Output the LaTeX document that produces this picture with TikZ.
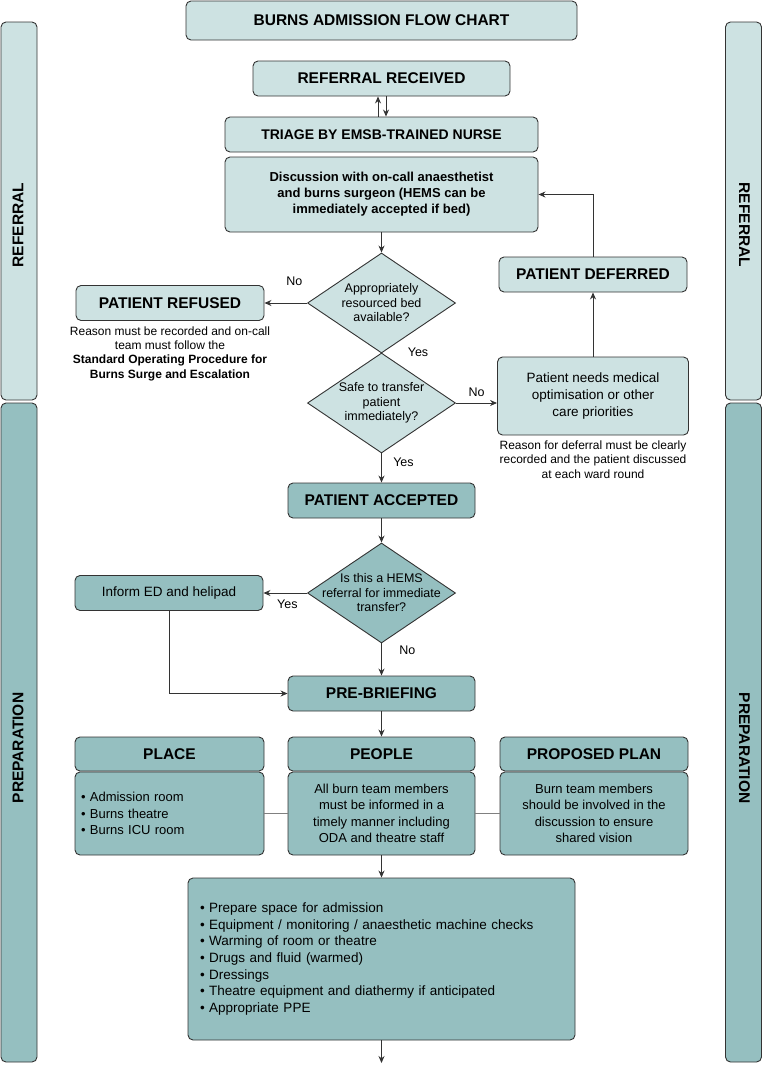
\documentclass[tikz,border=0pt]{standalone}
\usepackage{fontspec}
\setmainfont{Liberation Sans}
\usetikzlibrary{arrows.meta,positioning,shapes.geometric}
\definecolor{pale}{HTML}{CDE2E2}
\definecolor{teal}{HTML}{95BFC0}
\definecolor{ink}{HTML}{333333}

\tikzset{
  box/.style={draw=ink,line width=0.9pt,rounded corners=5pt,align=center,inner sep=4pt},
  palebox/.style={box,fill=pale},
  tealbox/.style={box,fill=teal},
  head/.style={font=\fontsize{15.5}{18}\selectfont\bfseries},
  body/.style={font=\fontsize{13.5}{16.7}\selectfont},
  choice/.style={diamond,draw=ink,line width=0.9pt,inner sep=0pt,minimum width=148pt,minimum height=100pt},
  ask/.style={align=center,font=\fontsize{12.5}{14.5}\selectfont},
  remark/.style={align=center,font=\fontsize{12}{14.3}\selectfont},
  tag/.style={font=\fontsize{12.5}{14}\selectfont},
  arr/.style={-{Stealth[length=7pt,width=6pt]},draw=ink,line width=0.9pt},
  band/.style={draw=ink,line width=0.9pt,rounded corners=5pt,minimum width=36pt}
}

\begin{document}
\begin{tikzpicture}[x=1pt,y=-1pt]
    \useasboundingbox (0,0) rectangle (763,1068);
    \node[band,fill=pale,minimum height=378pt] (lref) at (19,211) {};
    \node[band,fill=teal,minimum height=659pt] (lprep) at (19,732.5) {};
    \node[band,fill=pale,minimum height=378pt] (rref) at (743.5,211) {};
    \node[band,fill=teal,minimum height=659pt] (rprep) at (743.5,732.5) {};
    \node[head,rotate=90] (lrefT) at (18,225) {REFERRAL};
    \node[head,rotate=90] (lprepT) at (18,748) {PREPARATION};
    \node[head,rotate=-90] (rrefT) at (744.5,225) {REFERRAL};
    \node[head,rotate=-90] (rprepT) at (744.5,748) {PREPARATION};

    \node[palebox,head,minimum width=391pt,minimum height=39pt] (title) at (381.5,20.5) {BURNS ADMISSION FLOW CHART};
    \node[palebox,head,minimum width=257pt,minimum height=35pt] (recv) at (381.5,78.5) {REFERRAL RECEIVED};
    \node[palebox,font=\fontsize{14}{16}\selectfont\bfseries,minimum width=313pt,minimum height=35pt] (triage) at (381.5,134.5) {TRIAGE BY EMSB-TRAINED NURSE};
    \node[palebox,font=\fontsize{13}{16}\selectfont\bfseries,minimum width=313pt,minimum height=75pt] (disc) at (381.5,194.5)
      {Discussion with on-call anaesthetist\\and burns surgeon (HEMS can be\\immediately accepted if bed)};

    \node[choice,fill=pale] (bed) at (381.5,303) {};
    \node[ask] (bedT) at (bed) {Appropriately\\resourced bed\\available?};
    \node[palebox,head,minimum width=188pt,minimum height=35pt] (refused) at (170,303) {PATIENT REFUSED};
    \node[remark,below=2pt of refused] (refusedT)
      {Reason must be recorded and on-call\\team must follow the\\\textbf{Standard Operating Procedure for}\\\textbf{Burns Surge and Escalation}};

    \node[choice,fill=pale] (safe) at (381.5,403) {};
    \node[ask] (safeT) at (safe) {Safe to transfer\\patient\\immediately?};
    \node[palebox,body,minimum width=191pt,minimum height=78pt] (needs) at (593,396) {Patient needs medical\\optimisation or other\\care priorities};
    \node[remark,below=2pt of needs] (needsT)
      {Reason for deferral must be clearly\\recorded and the patient discussed\\at each ward round};
    \node[palebox,head,minimum width=188pt,minimum height=35pt] (deferred) at (593,274.5) {PATIENT DEFERRED};

    \node[tealbox,head,minimum width=187pt,minimum height=35pt] (accepted) at (381.5,500.5) {PATIENT ACCEPTED};
    \node[choice,fill=teal] (hems) at (381.5,593) {};
    \node[ask] (hemsT) at (hems) {Is this a HEMS\\referral for immediate\\transfer?};
    \node[tealbox,body,minimum width=188pt,minimum height=35pt] (inform) at (169,593) {Inform ED and helipad};
    \node[tealbox,head,minimum width=187pt,minimum height=35pt] (brief) at (381.5,693.5) {PRE-BRIEFING};

    \node[tealbox,head,minimum width=189pt,minimum height=34pt] (placeH) at (169.5,754) {PLACE};
    \node[tealbox,head,minimum width=187pt,minimum height=34pt] (peopleH) at (381.5,754) {PEOPLE};
    \node[tealbox,head,minimum width=188pt,minimum height=34pt] (planH) at (594,754) {PROPOSED PLAN};
    \node[tealbox,font=\fontsize{13}{16.5}\selectfont,minimum width=189pt,minimum height=83pt,text width=177pt,align=left] (placeB) at (169.5,813.5)
      {• Admission room\\• Burns theatre\\• Burns ICU room};
    \node[tealbox,font=\fontsize{13}{16.5}\selectfont,minimum width=187pt,minimum height=83pt] (peopleB) at (381.5,813.5)
      {All burn team members\\must be informed in a\\timely manner including\\ODA and theatre staff};
    \node[tealbox,font=\fontsize{13}{16.5}\selectfont,minimum width=188pt,minimum height=83pt] (planB) at (594,813.5)
      {Burn team members\\should be involved in the\\discussion to ensure\\shared vision};

    \node[tealbox,body,minimum width=387pt,minimum height=162pt,text width=363pt,align=left] (prep) at (381.5,959)
      {• Prepare space for admission\\• Equipment / monitoring / anaesthetic machine checks\\• Warming of room or theatre\\• Drugs and fluid (warmed)\\• Dressings\\• Theatre equipment and diathermy if anticipated\\• Appropriate PPE};
    \coordinate (out) at (381.5,1063);

    \draw[arr] ([xshift=-3.5pt]triage.north) -- ([xshift=-3.5pt]recv.south);
    \draw[arr] ([xshift=4.5pt]recv.south) -- ([xshift=4.5pt]triage.north);
    \draw[arr] (disc) -- (bed);
    \draw[arr] (bed.west) -- (refused.east) node[tag,pos=0.3,above=14pt] (noA) {No};
    \node[tag] (yesA) at (418,352) {Yes};
    \draw[arr] (safe.east) -- (needs.west |- safe.east) node[tag,midway,above=3pt] (noB) {No};
    \draw[arr] (needs) -- (deferred);
    \draw[arr] (deferred.north) |- (disc.east);
    \draw[arr] (safe) -- (accepted) node[tag,pos=0.3,right=8pt] (yesB) {Yes};
    \draw[arr] (accepted) -- (hems);
    \draw[arr] (hems.west) -- (inform.east) node[tag,pos=0.45,below=3pt] (yesC) {Yes};
    \draw[arr] (hems) -- (brief) node[tag,pos=0.2,right=14pt] (noC) {No};
    \draw[arr] (inform.south) |- (brief.west);
    \draw[arr] (brief) -- (peopleH);
    \draw[draw=gray,line width=0.9pt] (placeB) -- (peopleB) (peopleB) -- (planB);
    \draw[arr] (peopleB) -- (prep);
    \draw[arr] (prep) -- (out);
\end{tikzpicture}
\end{document}
